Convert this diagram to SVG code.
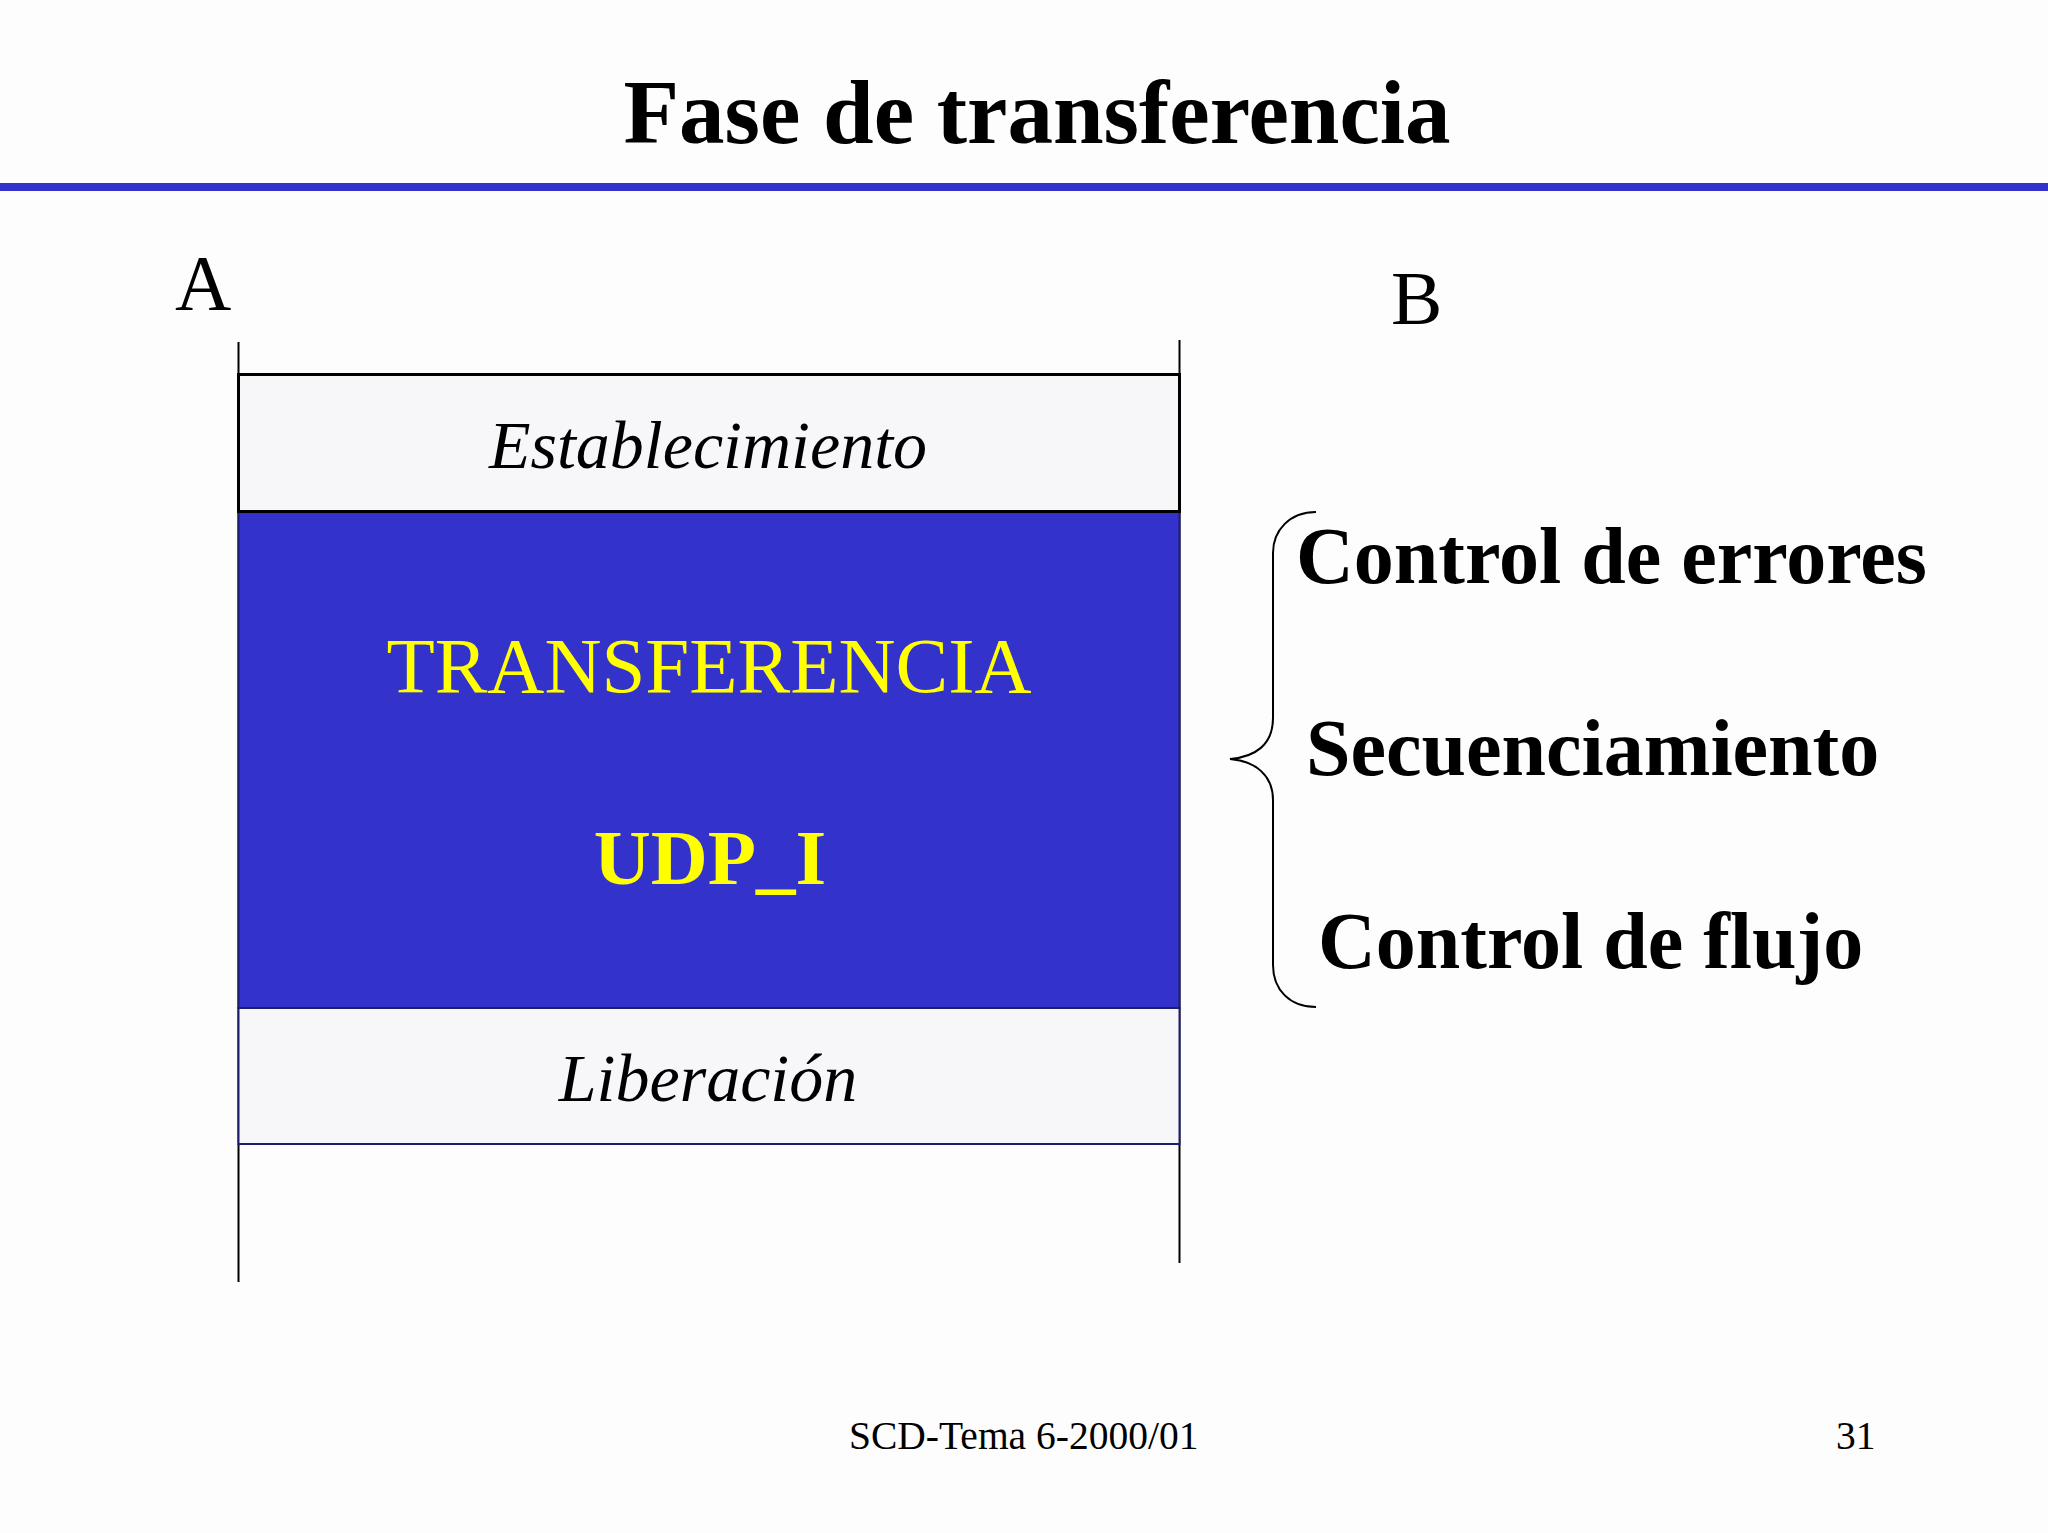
<svg xmlns="http://www.w3.org/2000/svg" width="2048" height="1533" viewBox="0 0 2048 1533">
<style>
.serif{font-family:"Liberation Serif","Times New Roman",serif;}
.b{font-weight:bold;}
.it{font-style:italic;}
.line{stroke:#000;stroke-width:2;fill:none;}
.yel{fill:#FFFF00;}
</style>
<rect x="0" y="0" width="2048" height="1533" fill="#FDFDFE"/>
<g id="title">
<text class="serif b" x="1037" y="143" font-size="91" text-anchor="middle" fill="#000">Fase de transferencia</text>
<rect x="0" y="183" width="2048" height="8" fill="#3333CC"/>
</g>
<g id="labelA"><text class="serif" x="175" y="309" font-size="78" fill="#000">A</text></g>
<g id="labelB"><text class="serif" x="1391" y="324" font-size="77" fill="#000">B</text></g>
<g id="connectors">
<line class="line" x1="238.5" y1="342" x2="238.5" y2="1282"/>
<line class="line" x1="1179.5" y1="340" x2="1179.5" y2="1263"/>
<path class="line" d="M1316,512 C1290,512 1273,530 1273,553 L1273,718 C1273,745 1255,757 1230,759 C1255,761 1273,775 1273,800 L1273,965 C1273,990 1290,1007 1316,1007"/>
</g>
<g id="transferencia">
<rect x="238.5" y="511" width="941" height="497" fill="#3333CC" stroke="#1E1E6E" stroke-width="2"/>
<text class="serif yel" x="709" y="692" font-size="79" text-anchor="middle">TRANSFERENCIA</text>
<text class="serif b yel" x="710" y="884" font-size="79" text-anchor="middle">UDP_I</text>
</g>
<g id="establecimiento">
<rect x="238.5" y="374.5" width="941" height="137" fill="#F7F7FA" stroke="#000" stroke-width="3"/>
<text class="serif it" x="708" y="468" font-size="68" text-anchor="middle" fill="#000">Establecimiento</text>
</g>
<g id="liberacion">
<rect x="238.5" y="1008" width="941" height="136" fill="#F7F7FA" stroke="#1E1E6E" stroke-width="2"/>
<text class="serif it" x="708" y="1101" font-size="68" text-anchor="middle" fill="#000">Liberación</text>
</g>
<g id="list">
<text class="serif b" x="1296" y="583" font-size="80" fill="#000">Control de errores</text>
<text class="serif b" x="1306" y="775" font-size="80" fill="#000">Secuenciamiento</text>
<text class="serif b" x="1318" y="968" font-size="80" fill="#000">Control de flujo</text>
</g>
<g id="footer">
<text class="serif" x="849" y="1449" font-size="39.5" fill="#000">SCD-Tema 6-2000/01</text>
<text class="serif" x="1836" y="1449" font-size="39.5" fill="#000">31</text>
</g>
</svg>
